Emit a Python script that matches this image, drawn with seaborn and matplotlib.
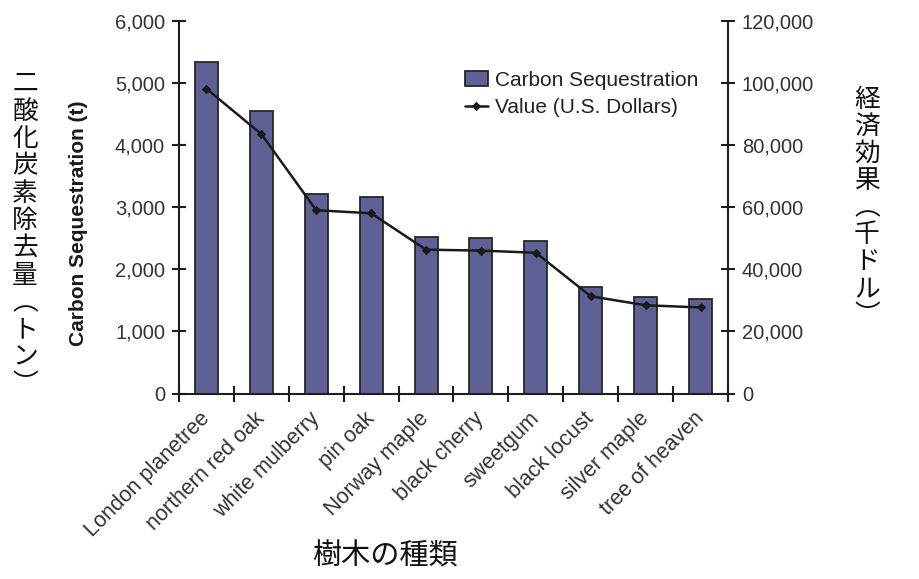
import matplotlib
matplotlib.use("Agg")
import matplotlib.pyplot as plt
import seaborn as sns
import pandas as pd
from matplotlib.ticker import FuncFormatter, FixedLocator

species = ["London planetree", "northern red oak", "white mulberry", "pin oak",
           "Norway maple", "black cherry", "sweetgum", "black locust",
           "silver maple", "tree of heaven"]
carbon_t = [5330, 4540, 3215, 3165, 2525, 2505, 2455, 1710, 1555, 1515]
value_usd = [98100, 83500, 59000, 58000, 46300, 46000, 45300, 31300, 28400, 27700]

left_label = "二酸化炭素除去量︵トン︶"
right_label = "経済効果︵千ドル︶"
x_label = "樹木の種類"
bar_label = "Carbon Sequestration"
line_label = "Value (U.S. Dollars)"
y_label = "Carbon Sequestration (t)"

sns.set_style("ticks")
plt.rcParams["font.family"] = ["Liberation Sans", "Noto Sans CJK JP", "DejaVu Sans"]

W, H = 919, 579
fig = plt.figure(figsize=(W / 100, H / 100), dpi=100)
L, R, T, B = 179, 728, 20.7, 393.5
ax = fig.add_axes([L / W, 1 - B / H, (R - L) / W, (B - T) / H])
ax2 = ax.twinx()

df = pd.DataFrame({"species": species, "carbon": carbon_t, "value": value_usd})

bar_color = "#5f6096"
edge = "#262626"
sns.barplot(data=df, x="species", y="carbon", ax=ax, color=bar_color,
            edgecolor=edge, linewidth=1.3, width=0.42, saturation=1)
sns.pointplot(data=df, x="species", y="value", ax=ax2, color="#1a1a1a",
              markers="D", markersize=3.5, linewidth=1.8, errorbar=None)

ax.set_ylim(0, 6000)
ax2.set_ylim(0, 120000)
ax.set_xlim(-0.5, 9.5)
ax.set_yticks(range(0, 6001, 1000))
ax2.set_yticks(range(0, 120001, 20000))
fmt = FuncFormatter(lambda v, p: f"{v:,.0f}")
ax.yaxis.set_major_formatter(fmt)
ax2.yaxis.set_major_formatter(fmt)

tick_color = "#333333"
spine_color = "#1e1e1e"
for a in (ax, ax2):
    for s in a.spines.values():
        s.set_color(spine_color)
        s.set_linewidth(1.5)
    a.spines["top"].set_visible(False)
ax.spines["right"].set_visible(False)
ax2.spines["left"].set_visible(False)
ax2.spines["bottom"].set_visible(False)

ax.tick_params(axis="y", direction="inout", length=10, width=1.5, color=spine_color,
               labelsize=14.5, labelcolor=tick_color, pad=5)
ax2.tick_params(axis="y", direction="inout", length=10, width=1.5, color=spine_color,
                labelsize=14.5, labelcolor=tick_color, pad=5)

ax.set_xticks(range(len(species)))
ax.set_xticklabels(species, rotation=45, ha="right", va="center",
                   rotation_mode="anchor", fontsize=15.5, color=tick_color)
ax.tick_params(axis="x", which="major", length=0, pad=16)
ax.xaxis.set_minor_locator(FixedLocator([i + 0.5 for i in range(-1, len(species))]))
ax.tick_params(axis="x", which="minor", direction="inout", length=11, width=1.5,
               color=spine_color)

ax.set_xlabel("")
ax2.set_xlabel("")
ax2.set_ylabel("")
ax.set_ylabel(y_label, fontsize=15, fontweight="bold", color="#1a1a1a")
ax.yaxis.set_label_coords(-0.166, 0.456)

handles = [ax.containers[0], ax2.lines[0]]
leg = ax2.legend(handles, [bar_label, line_label], loc="upper left",
                 bbox_to_anchor=(452 / W, 1 - 58 / H), bbox_transform=fig.transFigure,
                 frameon=False, fontsize=15, handlelength=1.15, handleheight=0.8,
                 handletextpad=0.3, labelspacing=0.4, borderpad=0.1,
                 labelcolor="#222222")

jp_font = ["Noto Sans CJK JP"]
def vertical_text(text, xc, y0, pitch, size):
    for i, ch in enumerate(text):
        fig.text(xc / W, 1 - (y0 + i * pitch) / H, ch, ha="center", va="center",
                 fontsize=size, family=jp_font, color="#111111")

vertical_text(left_label, 25, 84, 27.4, 18.5)
vertical_text(right_label, 867, 100, 27.0, 18.5)
fig.text(385 / W, 1 - 557 / H, x_label, ha="center", va="center", fontsize=21,
         family=jp_font, color="#111111")

fig.savefig("out.png", dpi=100, facecolor="white")
